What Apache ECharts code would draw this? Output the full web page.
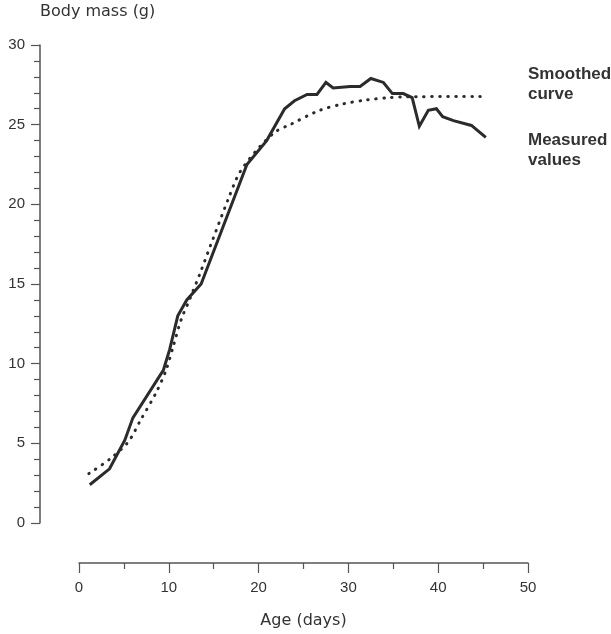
<!DOCTYPE html>
<html>
<head>
<meta charset="utf-8">
<script src="https://cdn.jsdelivr.net/npm/echarts@6/dist/echarts.min.js"></script>
<style>
  html, body { margin: 0; padding: 0; background: #fff; }
  #chart { width: 611px; height: 634px; }
</style>
</head>
<body>
<div id="chart"></div>
<script>
  // measured body mass (age in days, grams)
  var measuredAge = [1.2, 3.4, 5.1, 6.0, 9.4, 10.1, 11.0, 12.0, 13.6, 18.7, 20.9, 22.9, 24.0, 25.4, 26.5,
                     27.5, 28.3, 30.2, 31.3, 32.5, 33.9, 34.9, 36.1, 37.1, 37.9, 38.9, 39.8, 40.5, 41.7, 43.7, 45.3];
  var measuredMass = [2.4, 3.4, 5.2, 6.6, 9.6, 10.9, 13.0, 14.0, 15.0, 22.5, 24.0, 26.0, 26.5, 26.9, 26.9,
                      27.65, 27.3, 27.4, 27.4, 27.9, 27.65, 26.95, 26.95, 26.7, 24.9, 25.9, 26.0, 25.5, 25.25, 24.95, 24.2];
  // smoothed curve
  var smoothAge = [1.1, 3.4, 5.5, 6.8, 8.6, 9.7, 10.5, 11.4, 12.3, 13.5, 14.9, 16.6, 17.9, 20.1, 22.0,
                   23.5, 26.8, 29.4, 32.0, 34.6, 36.5, 45.0];
  var smoothMass = [3.1, 4.0, 5.1, 6.4, 8.2, 9.6, 11.1, 12.8, 14.0, 15.7, 17.8, 20.3, 22.0, 23.6, 24.6,
                    25.0, 25.9, 26.3, 26.55, 26.7, 26.75, 26.77];

  var lineColor = '#2b2b2b';
  var axisColor = '#555';
  var textColor = '#333';

  function pairs(xs, ys) {
    return xs.map(function (x, i) { return [x, ys[i]]; });
  }

  var chart = echarts.init(document.getElementById('chart'));
  chart.setOption({
    animation: false,
    grid: { left: 79, right: 83, top: 45, bottom: 111, outerBoundsMode: 'none' },
    xAxis: {
      type: 'value',
      min: 0, max: 50, interval: 10,
      offset: 40,
      name: 'Age (days)',
      nameLocation: 'middle',
      nameGap: 50,
      nameTextStyle: { fontFamily: 'DejaVu Sans', fontSize: 16, color: textColor },
      axisLine: { show: true, onZero: false, lineStyle: { color: axisColor, width: 1.5 } },
      axisTick: { show: true, length: 10, lineStyle: { color: axisColor, width: 1.2 } },
      minorTick: { show: true, splitNumber: 2, length: 6, lineStyle: { color: axisColor, width: 1.2 } },
      axisLabel: { margin: 17, fontFamily: 'Liberation Sans', fontSize: 15, color: textColor },
      splitLine: { show: false }
    },
    yAxis: {
      type: 'value',
      min: 0, max: 30, interval: 5,
      offset: 39,
      name: 'Body mass (g)',
      nameLocation: 'end',
      nameGap: 33,
      nameTextStyle: { fontFamily: 'DejaVu Sans', fontSize: 16, color: textColor, align: 'left', verticalAlign: 'middle' },
      axisLine: { show: true, onZero: false, lineStyle: { color: axisColor, width: 1.5 } },
      axisTick: { show: true, length: 9, lineStyle: { color: axisColor, width: 1.2 } },
      minorTick: { show: true, splitNumber: 5, length: 6, lineStyle: { color: axisColor, width: 1.2 } },
      axisLabel: { margin: 15, fontFamily: 'Liberation Sans', fontSize: 15, color: textColor },
      splitLine: { show: false }
    },
    series: [
      {
        name: 'Smoothed curve',
        type: 'line',
        data: pairs(smoothAge, smoothMass),
        smooth: 0.3,
        symbol: 'none',
        lineStyle: { color: lineColor, width: 3, type: [0.5, 7.5], cap: 'round' }
      },
      {
        name: 'Measured values',
        type: 'line',
        data: pairs(measuredAge, measuredMass),
        symbol: 'none',
        lineStyle: { color: lineColor, width: 3, join: 'miter' }
      }
    ],
    graphic: [
      { type: 'text', left: 528, top: 64, style: { text: 'Smoothed\ncurve', fill: textColor, font: 'bold 17px "Liberation Sans"', lineHeight: 20 } },
      { type: 'text', left: 528, top: 130, style: { text: 'Measured\nvalues', fill: textColor, font: 'bold 17px "Liberation Sans"', lineHeight: 20 } }
    ]
  });
</script>
</body>
</html>
